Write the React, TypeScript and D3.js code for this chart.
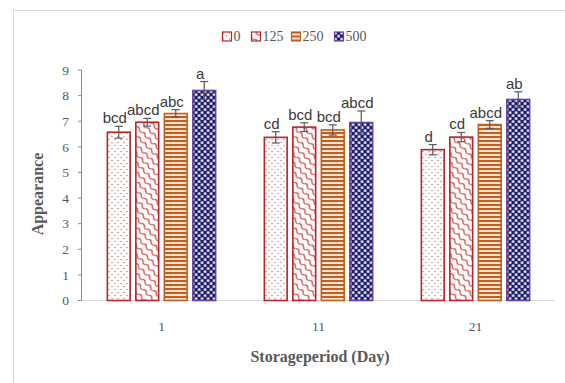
import * as d3 from 'd3';
import React from 'react';

// storage period groups and treatment doses
const days = ['1', '11', '21'];
const doses = ['0', '125', '250', '500'];

// mean appearance per dose, one entry per day
const dose0 = [6.57, 6.37, 5.89];
const dose125 = [6.96, 6.77, 6.38];
const dose250 = [7.3, 6.66, 6.87];
const dose500 = [8.2, 6.95, 7.85];

// standard error per dose
const err0 = [0.23, 0.22, 0.2];
const err125 = [0.15, 0.17, 0.18];
const err250 = [0.15, 0.2, 0.15];
const err500 = [0.35, 0.45, 0.3];

// significance letters per dose
const letters0 = ['bcd', 'cd', 'd'];
const letters125 = ['abcd', 'bcd', 'cd'];
const letters250 = ['abc', 'bcd', 'abcd'];
const letters500 = ['a', 'abcd', 'ab'];

const yTicks = [0, 1, 2, 3, 4, 5, 6, 7, 8, 9];

const series = [
  { key: doses[0], values: dose0, errs: err0, letters: letters0, stroke: '#b8242a', fill: 'url(#pDots)' },
  { key: doses[1], values: dose125, errs: err125, letters: letters125, stroke: '#b8242a', fill: 'url(#pWave)' },
  { key: doses[2], values: dose250, errs: err250, letters: letters250, stroke: '#c0601c', fill: 'url(#pStripe)' },
  { key: doses[3], values: dose500, errs: err500, letters: letters500, stroke: '#6a40a8', fill: 'url(#pCheck)' },
];

const W = 565;
const H = 383;
const gray = '#595959';
const serif = '"Liberation Serif", "DejaVu Serif", serif';

export default function App() {
  const x0 = d3.scaleBand<string>().domain(days).range([83, 554]);
  const x1 = d3.scaleBand<string>().domain(doses).range([-54.15, 54.15]).paddingInner(0.2);
  const y = d3.scaleLinear().domain([0, 9]).range([300.5, 70]);
  const bw = x1.bandwidth();

  const legendX = [222, 251, 291, 334];

  return (
    <svg width={W} height={H} style={{ position: 'absolute', left: 0, top: 0, background: '#fff' }}>
      <defs>
        <pattern id="pDots" width={6} height={6} patternUnits="userSpaceOnUse">
          <rect width={6} height={6} fill="#fff" />
          <circle cx={1.5} cy={1.5} r={0.7} fill="#b86a6a" />
          <circle cx={4.5} cy={4.5} r={0.7} fill="#b86a6a" />
        </pattern>
        <pattern id="pWave" width={8} height={6.5} patternUnits="userSpaceOnUse" patternTransform="rotate(45)">
          <rect width={8} height={6.5} fill="#fff" />
          <path d="M0,3.2 Q2,1 4,3.2 T8,3.2" fill="none" stroke="#d24a4a" strokeWidth={1.2} />
        </pattern>
        <pattern id="pStripe" width={4} height={4} patternUnits="userSpaceOnUse">
          <rect width={4} height={4} fill="#fbe3d2" />
          <rect width={4} height={2} fill="#c0601c" />
        </pattern>
        <pattern id="pCheck" width={6} height={6} patternUnits="userSpaceOnUse">
          <rect width={6} height={6} fill="#1c1c6a" />
          <rect x={0.4} y={0.4} width={2.4} height={2.4} fill="#fff" />
          <rect x={3.4} y={3.4} width={2.4} height={2.4} fill="#fff" />
        </pattern>
      </defs>

      <rect x={13.5} y={10.5} width={600} height={400} fill="none" stroke="#d9d9d9" />

      {/* legend */}
      {series.map((s, i) => (
        <g key={s.key} transform={`translate(${legendX[i]},31.5)`}>
          <rect x={0.5} y={0.5} width={9} height={9} fill={s.fill} stroke={s.stroke} strokeWidth={1.2} />
          <text x={11.5} y={9.5} fontFamily={serif} fontSize={14} fill={gray}>{s.key}</text>
        </g>
      ))}

      {/* baseline */}
      <line x1={82} x2={555} y1={y(0)} y2={y(0)} stroke="#d9d9d9" />

      {/* y axis */}
      <line x1={81.5} x2={81.5} y1={y(9)} y2={y(0)} stroke="#8c8c8c" />
      {yTicks.map(t => (
        <g key={t}>
          <line x1={78} x2={81.5} y1={y(t)} y2={y(t)} stroke="#8c8c8c" />
          <text x={69} y={y(t)} dy="0.35em" textAnchor="end" fontFamily={serif} fontSize={13.5} fill={gray}>{t}</text>
        </g>
      ))}

      {/* bars */}
      {days.map((d, di) => (
        <g key={d} transform={`translate(${(x0(d) as number) + x0.bandwidth() / 2},0)`}>
          {series.map(s => {
            const bx = x1(s.key) as number;
            const v = s.values[di];
            const e = s.errs[di];
            const cx = bx + bw / 2;
            return (
              <g key={s.key}>
                <rect x={bx} y={y(v)} width={bw} height={y(0) - y(v)} fill={s.fill} stroke={s.stroke} strokeWidth={1.6} />
                <line x1={cx} x2={cx} y1={y(v + e)} y2={y(v - e)} stroke={gray} strokeWidth={1.2} />
                <line x1={cx - 4} x2={cx + 4} y1={y(v + e)} y2={y(v + e)} stroke={gray} strokeWidth={1.2} />
                <line x1={cx - 4} x2={cx + 4} y1={y(v - e)} y2={y(v - e)} stroke={gray} strokeWidth={1.2} />
                <text x={cx - 4} y={y(v + e) - 3} textAnchor="middle" fontFamily='"Liberation Sans", Arial, sans-serif' fontSize={15} fill="#3a3a3a">
                  {s.letters[di]}
                </text>
              </g>
            );
          })}
          <text x={0} y={331} textAnchor="middle" fontFamily={serif} fontSize={13.5} fill={gray}>{d}</text>
        </g>
      ))}

      {/* axis titles */}
      <text x={320} y={362} textAnchor="middle" fontFamily={serif} fontSize={16} fontWeight="bold" fill={gray}>Storageperiod (Day)</text>
      <text transform="translate(43,194) rotate(-90)" textAnchor="middle" fontFamily={serif} fontSize={16} fontWeight="bold" fill={gray}>Appearance</text>
    </svg>
  );
}
